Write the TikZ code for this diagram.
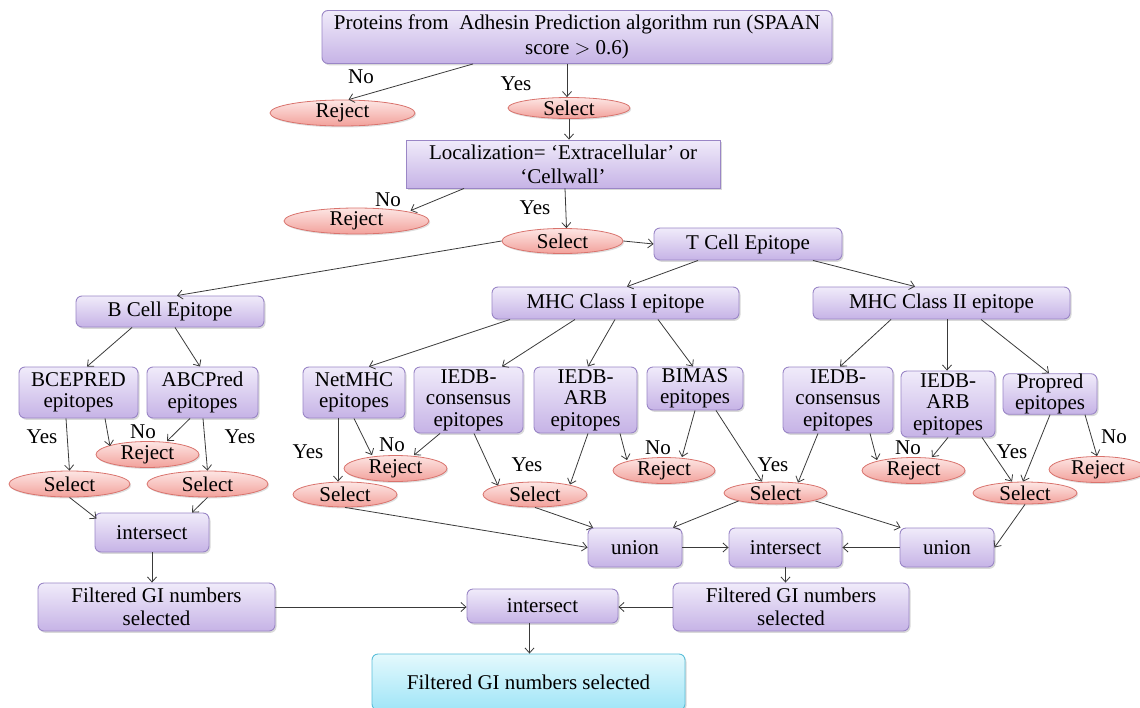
\documentclass[tikz,border=0pt]{standalone}
\usepackage{fontspec}
\setmainfont{Liberation Serif}
\usetikzlibrary{arrows.meta,shadows,shapes.geometric}
\definecolor{boxtop}{HTML}{F0EBFA}
\definecolor{boxbot}{HTML}{C6B3E6}
\definecolor{boxline}{HTML}{9A86C6}
\definecolor{elltop}{HTML}{FDE6E4}
\definecolor{ellbot}{HTML}{F2A19B}
\definecolor{ellline}{HTML}{D9736D}
\definecolor{fintop}{HTML}{E4F9FD}
\definecolor{finbot}{HTML}{A0E5F7}
\definecolor{finline}{HTML}{5BBFD9}
\definecolor{linecol}{HTML}{3A3A3A}
\tikzset{
  txt/.style={font=\fontsize{21}{21.5}\selectfont, text=black},
  pbox/.style={txt, draw=boxline, line width=0.9pt, rounded corners=6pt, top color=boxtop, bottom color=boxbot,
     align=center, inner sep=0pt, minimum width=#1, drop shadow={shadow xshift=1.5pt, shadow yshift=-1.8pt, opacity=0.3}},
  sqbox/.style={pbox=#1, rounded corners=0pt},
  oval/.style={txt, ellipse, draw=ellline, line width=0.8pt, top color=elltop, bottom color=ellbot, inner sep=0pt,
     drop shadow={shadow xshift=1.2pt, shadow yshift=-1.5pt, opacity=0.25}},
  finbox/.style={pbox=#1, draw=finline, top color=fintop, bottom color=finbot},
  lbl/.style={txt, inner sep=0pt},
  arr/.style={draw=linecol, line width=0.8pt, -{Straight Barb[length=5pt,width=9pt]}},
}
\begin{document}
\begin{tikzpicture}[x=1pt,y=-1pt]
\useasboundingbox (0,0) rectangle (1140,707);
% ---- boxes ----
\node[pbox=510pt, minimum height=53pt, font=\fontsize{21}{25}\selectfont] (top) at (577,37) {Proteins from\ \ Adhesin Prediction algorithm run (SPAAN\\score $>$ 0.6)};
\node[sqbox=314pt, minimum height=48pt, font=\fontsize{21}{24}\selectfont] (loc) at (563,164) {Localization= ‘Extracellular’ or\\‘Cellwall’};
\node[pbox=188pt, minimum height=32pt] (tcell) at (748,244) {T Cell Epitope};
\node[pbox=188pt, minimum height=31pt] (bcell) at (170,311.5) {B Cell Epitope};
\node[pbox=247pt, minimum height=32pt] (mhc1) at (615.5,303) {MHC Class I epitope};
\node[pbox=257pt, minimum height=32pt] (mhc2) at (941.5,303) {MHC Class II epitope};
\node[pbox=119pt, minimum height=51pt] (bcepred) at (78.5,392.5) {BCEPRED\\epitopes};
\node[pbox=111pt, minimum height=51pt] (abcpred) at (202.5,392.5) {ABCPred\\epitopes};
\node[pbox=102pt, minimum height=51pt] (netmhc) at (354,392.5) {NetMHC\\epitopes};
\node[pbox=109pt, minimum height=66pt] (iedbc1) at (468.5,400) {IEDB-\\consensus\\epitopes};
\node[pbox=103pt, minimum height=66pt] (iedba1) at (585.5,400) {IEDB-\\ARB\\epitopes};
\node[pbox=96pt, minimum height=43pt] (bimas) at (695,388.5) {BIMAS\\epitopes};
\node[pbox=110pt, minimum height=66pt] (iedbc2) at (838,400) {IEDB-\\consensus\\epitopes};
\node[pbox=94pt, minimum height=66pt] (iedba2) at (948,404) {IEDB-\\ARB\\epitopes};
\node[pbox=94pt, minimum height=40pt] (propred) at (1050,394) {Propred\\epitopes};
\node[pbox=114pt, minimum height=39pt] (intB) at (152,532.5) {intersect};
\node[pbox=94pt, minimum height=39pt] (union1) at (635,547.5) {union};
\node[pbox=113pt, minimum height=39pt] (intM) at (785.5,547.5) {intersect};
\node[pbox=94pt, minimum height=39pt] (union2) at (947,547.5) {union};
\node[pbox=237pt, minimum height=48pt, font=\fontsize{21}{23.5}\selectfont] (filtB) at (156.5,607) {Filtered GI numbers\\selected};
\node[pbox=151pt, minimum height=34pt] (intF) at (542.5,606) {intersect};
\node[pbox=236pt, minimum height=48pt, font=\fontsize{21}{23.5}\selectfont] (filtR) at (791,607) {Filtered GI numbers\\selected};
\node[finbox=313pt, minimum height=56pt] (final) at (528.5,682) {Filtered GI numbers selected};
% ---- ovals ----
\node[oval, minimum width=145pt, minimum height=24pt] (rej1) at (342.5,113) {Reject};
\node[oval, minimum width=122pt, minimum height=21pt] (sel1) at (569,108) {Select};
\node[oval, minimum width=145pt, minimum height=24pt] (rej2) at (356.5,221) {Reject};
\node[oval, minimum width=121pt, minimum height=25pt] (sel2) at (562.5,241) {Select};
\node[oval, minimum width=121pt, minimum height=26pt] (selB1) at (69.5,484) {Select};
\node[oval, minimum width=121pt, minimum height=26pt] (selB2) at (207.5,484) {Select};
\node[oval, minimum width=103pt, minimum height=21pt] (rejB) at (147.5,454.5) {Reject};
\node[oval, minimum width=103pt, minimum height=20pt] (rejN) at (395.5,468.5) {Reject};
\node[oval, minimum width=104pt, minimum height=25pt] (selN) at (345,494.5) {Select};
\node[oval, minimum width=104pt, minimum height=25pt] (selI2) at (535,494.5) {Select};
\node[oval, minimum width=102pt, minimum height=21pt] (rejA) at (664,470.5) {Reject};
\node[oval, minimum width=103pt, minimum height=22pt] (selM) at (775.5,493) {Select};
\node[oval, minimum width=103pt, minimum height=21pt] (rejM) at (913.5,470.5) {Reject};
\node[oval, minimum width=104pt, minimum height=22pt] (selP) at (1025,493) {Select};
\node[oval, minimum width=98pt, minimum height=23pt] (rejP) at (1098,469.5) {Reject};
% ---- labels ----
\node[lbl] (l1) at (361,77) {No};
\node[lbl] (l2) at (516,84) {Yes};
\node[lbl] (l3) at (388,200) {No};
\node[lbl] (l4) at (535,208) {Yes};
\node[lbl] (l5) at (42,437) {Yes};
\node[lbl] (l6) at (143,432) {No};
\node[lbl] (l7) at (240,437) {Yes};
\node[lbl] (l8) at (308,452) {Yes};
\node[lbl] (l9) at (392,445) {No};
\node[lbl] (l10) at (527,465) {Yes};
\node[lbl] (l11) at (658,448) {No};
\node[lbl] (l12) at (773,465) {Yes};
\node[lbl] (l13) at (908,448) {No};
\node[lbl] (l14) at (1012,452) {Yes};
\node[lbl] (l15) at (1114,437) {No};
% ---- connectors ----
\draw[arr] ([xshift=-104pt]top.south) -- ([xshift=6pt]rej1.north);
\draw[arr] ([xshift=-10pt]top.south) -- ([xshift=-2pt]sel1.north);
\draw[arr] (sel1.south) -- ([xshift=6pt]loc.north);
\draw[arr] ([xshift=-99pt]loc.south) -- ([xshift=54pt,yshift=-3pt]rej2.north);
\draw[arr] ([xshift=2pt]loc.south) -- ([xshift=4pt]sel2.north);
\draw[arr] (sel2.east) -- (tcell.west);
\draw[arr] (sel2.west) -- ([xshift=7pt]bcell.north);
\draw[arr] ([xshift=-50pt]tcell.south) -- ([xshift=11.5pt]mhc1.north);
\draw[arr] ([xshift=65pt]tcell.south) -- ([xshift=-26.5pt]mhc2.north);
\draw[arr] ([xshift=-38pt]bcell.south) -- ([xshift=8.5pt]bcepred.north);
\draw[arr] ([xshift=5pt]bcell.south) -- ([xshift=-2.5pt]abcpred.north);
\draw[arr] ([xshift=-12.5pt]bcepred.south) -- (selB1.north);
\draw[arr] ([xshift=26.5pt]bcepred.south) -- ([xshift=-37.5pt,yshift=-5pt]rejB.north);
\draw[arr] ([xshift=-12.5pt]abcpred.south) -- ([xshift=19.5pt]rejB.north);
\draw[arr] ([xshift=0.5pt]abcpred.south) -- (selB2.north);
\draw[arr] (selB1.south) -- ([xshift=2pt,yshift=-6pt]intB.north west);
\draw[arr] (selB2.south) -- ([xshift=40pt]intB.north);
\draw[arr] (intB.south) -- (intB.south |- filtB.north);
\draw[arr] (filtB.east) -- (filtB.east -| intF.west);
\draw[arr] (filtR.west) -- (filtR.west -| intF.east);
\draw[arr] ([xshift=-13pt]intF.south) -- ([xshift=-13pt]intF.south |- final.north);
\draw[arr] ([xshift=-105.5pt]mhc1.south) -- ([xshift=15pt]netmhc.north);
\draw[arr] ([xshift=-40.5pt]mhc1.south) -- ([xshift=33.5pt]iedbc1.north);
\draw[arr] ([xshift=-0.5pt]mhc1.south) -- ([xshift=2.5pt]iedba1.north);
\draw[arr] ([xshift=42.5pt]mhc1.south) -- ([xshift=-2pt]bimas.north);
\draw[arr] ([xshift=-50.5pt]mhc2.south) -- ([xshift=2pt]iedbc2.north);
\draw[arr] ([xshift=5.5pt]mhc2.south) -- ([xshift=-1pt]iedba2.north);
\draw[arr] ([xshift=39.5pt]mhc2.south) -- ([xshift=-1pt]propred.north);
\draw[arr] ([xshift=-16pt]netmhc.south) -- ([xshift=-7pt]selN.north);
\draw[arr] (netmhc.south) -- ([xshift=-23.5pt]rejN.north);
\draw[arr] ([xshift=-28.5pt]iedbc1.south) -- ([xshift=18.5pt]rejN.north);
\draw[arr] ([xshift=5.5pt]iedbc1.south) -- ([xshift=-37pt,yshift=-4pt]selI2.north);
\draw[arr] ([xshift=2.5pt]iedba1.south) -- ([xshift=35pt,yshift=-3pt]selI2.north);
\draw[arr] ([xshift=34.5pt]iedba1.south) -- ([xshift=-37pt,yshift=-3pt]rejA.north);
\draw[arr] (bimas.south) -- ([xshift=18pt]rejA.north);
\draw[arr] ([xshift=21pt]bimas.south) -- ([xshift=-13.5pt]selM.north);
\draw[arr] ([xshift=-20pt]iedbc2.south) -- ([xshift=22.5pt,yshift=-1pt]selM.north);
\draw[arr] ([xshift=32pt]iedbc2.south) -- ([xshift=-36.5pt,yshift=-3pt]rejM.north);
\draw[arr] (iedba2.south) -- ([xshift=18.5pt]rejM.north);
\draw[arr] ([xshift=34pt]iedba2.south) -- ([xshift=-13pt]selP.north);
\draw[arr] (propred.south) -- ([xshift=-2pt]selP.north);
\draw[arr] ([xshift=35pt]propred.south) -- ([xshift=-1pt]rejP.north);
\draw[arr] (selN.south) -- (union1.west);
\draw[arr] (selI2.south) -- ([xshift=-42pt]union1.north);
\draw[arr] ([xshift=-37pt,yshift=-8pt]selM.center) -- ([xshift=38pt]union1.north);
\draw[arr] ([xshift=40pt,yshift=-8pt]selM.center) -- ([xshift=1pt]union2.north west);
\draw[arr] (selP.south) -- (union2.east);
\draw[arr] (union2.west) -- (intM.east);
\draw[arr] (union1.east) -- (intM.west);
\draw[arr] (intM.south) -- (intM.south |- filtR.north);
\end{tikzpicture}
\end{document}
